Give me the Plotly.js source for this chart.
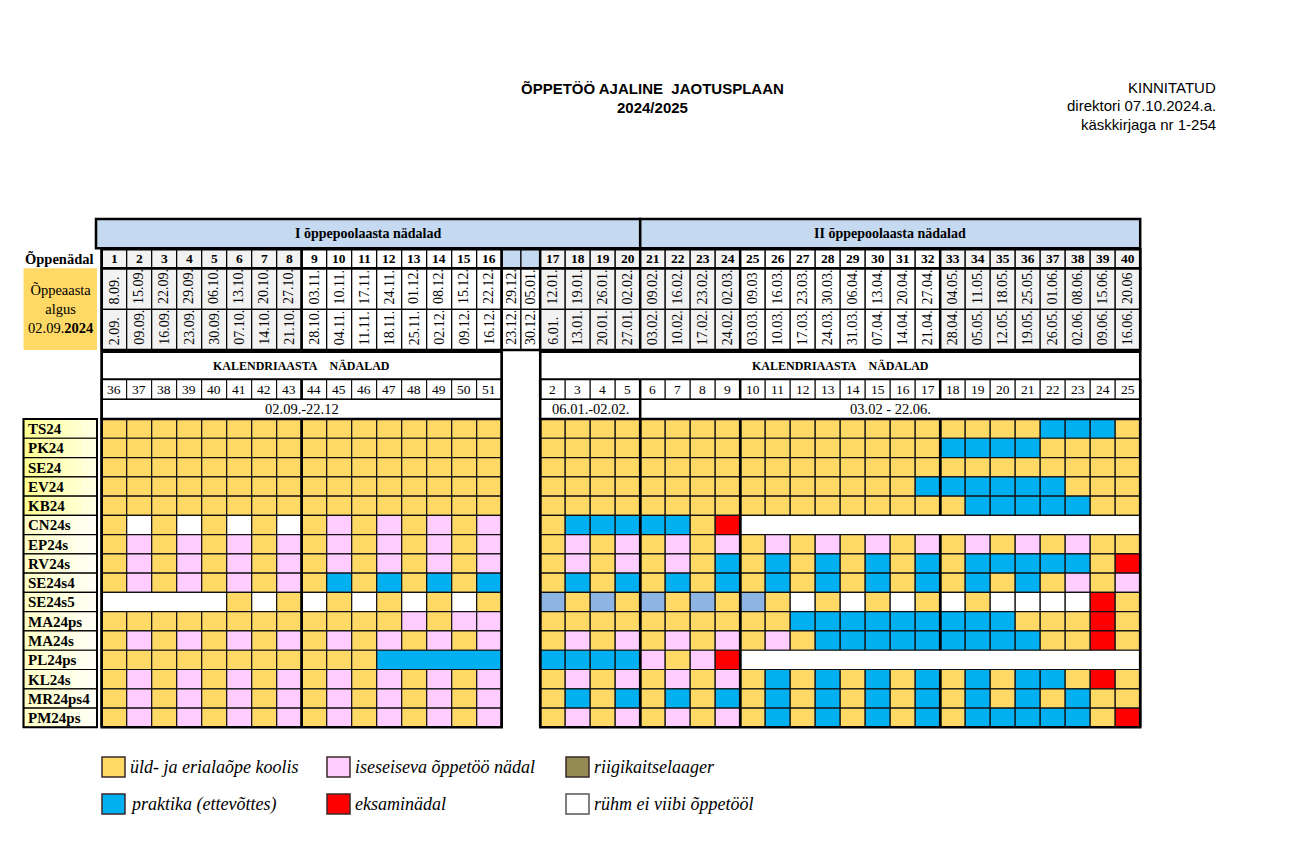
<!DOCTYPE html>
<html><head><meta charset="utf-8">
<script src="https://cdn.plot.ly/plotly-3.0.1.min.js"></script>
<style>html,body{margin:0;padding:0;background:#fff}#chart{width:1303px;height:851px}</style>
</head><body><div id="chart"></div>
<script>
// ---------------- DATA ----------------
const groups = ['TS24','PK24','SE24','EV24','KB24','CN24s','EP24s','RV24s','SE24s4','SE24s5','MA24ps','MA24s','PL24ps','KL24s','MR24ps4','PM24ps'];
// Codes: Y school, P independent study, B practice, R exam, W not in studies, L light-blue, O defence camp; '-' = merged with previous cell
const sem1 = [ // study weeks 1-16
 'YYYYYYYYYYYYYYYY','YYYYYYYYYYYYYYYY','YYYYYYYYYYYYYYYY','YYYYYYYYYYYYYYYY','YYYYYYYYYYYYYYYY',
 'YWYWYWYWYPYPYPYP','YPYPYPYPYPYPYPYP','YPYPYPYPYPYPYPYP','YPYPYPYPYBYBYBYB','W----YWYWYWYWYWY',
 'YYYYYYYYYYYYPYPP','YPYPYPYPYPYPYPYP','YYYYYYYYYYYB----','YPYPYPYPYPYPYPYP','YPYPYPYPYPYPYPYP',
 'YPYPYPYPYPYPYPYP'];
const sem2 = [ // study weeks 17-40
 'YYYYYYYYYYYYYYYYYYYYBBBY','YYYYYYYYYYYYYYYYBBBBYYYY','YYYYYYYYYYYYYYYYYYYYYYYY','YYYYYYYYYYYYYYYBBBBBBYYY',
 'YYYYYYYYYYYYYYYYYBBBBBYY','YBBBBBYRW---------------','YPYPYPYPYPYPYPYPYPYPYPYY','YPYPYPYBYBYBYBYBYBBBBBYR',
 'YBYBYBYBYBYBYBYBYBYBYPYP','LYLYLYLYLYWYWYWYWYWWWWRY','YYYYYYYYYYBBBBBBBBBYYYRY','YPYPYPYPYPYBBBBBBBBBYYRY',
 'BBBBPYPRW---------------','YPYPYPYPYBYBYBYBYBYBBYRY','YBYBYBYBYBYBYBYBYBYBYBYY','YPYPYPYPYBYBYBYBYBBBBBYR'];
const weekNo = ['1','2','3','4','5','6','7','8','9','10','11','12','13','14','15','16','','',
 '17','18','19','20','21','22','23','24','25','26','27','28','29','30','31','32','33','34','35','36','37','38','39','40'];
const endDate = ['8.09.','15.09.','22.09.','29.09.','06.10.','13.10.','20.10.','27.10.','03.11.','10.11.','17.11.','24.11.','01.12.','08.12.','15.12.','22.12.',
 '29.12.','05.01.','12.01.','19.01.','26.01.','02.02.','09.02.','16.02.','23.02.','02.03.','09.03','16.03.','23.03.','30.03.','06.04.','13.04.','20.04.','27.04.',
 '04.05.','11.05.','18.05.','25.05.','01.06.','08.06.','15.06.','20.06'];
const startDate = ['2.09.','09.09.','16.09.','23.09.','30.09.','07.10.','14.10.','21.10.','28.10.','04.11.','11.11.','18.11.','25.11.','02.12.','09.12.','16.12.',
 '23.12.','30.12.','6.01.','13.01.','20.01.','27.01.','03.02.','10.02.','17.02.','24.02.','03.03.','10.03.','17.03.','24.03.','31.03.','07.04.','14.04.','21.04.',
 '28.04.','05.05.','12.05.','19.05.','26.05.','02.06.','09.06.','16.06.'];
const calWeek = ['36','37','38','39','40','41','42','43','44','45','46','47','48','49','50','51','','',
 '2','3','4','5','6','7','8','9','10','11','12','13','14','15','16','17','18','19','20','21','22','23','24','25'];
const rangeLabels = ['02.09.-22.12','06.01.-02.02.','03.02 - 22.06.'];
const rangeWeeks = [[1,16],[17,20],[21,40]];
const semLabels = ['I õppepoolaasta nädalad','II õppepoolaasta nädalad'];
const legendCodes = ['Y','P','O','B','R','W'];
const legendLabels = ['üld- ja erialaõpe koolis','iseseiseva õppetöö nädal','riigikaitselaager','praktika (ettevõttes)','eksaminädal','rühm ei viibi õppetööl'];
const titleLines = ['ÕPPETÖÖ AJALINE\u00a0 JAOTUSPLAAN','2024/2025'];
const approvalLines = ['KINNITATUD','direktori 07.10.2024.a.','käskkirjaga nr 1-254'];
const startLabel = 'Õppeaasta<br>algus<br>02.09.<b>2024</b>';

// ---------------- STYLE / GEOMETRY ----------------
const COLORS = {Y:'#FFD966',P:'#FFCCFF',B:'#00B0F0',R:'#FF0000',W:'#FFFFFF',L:'#8DB4E2',O:'#948A54'};
const SERIF = "'Liberation Serif','Times New Roman',serif";
const SANS = "'Liberation Sans',Arial,sans-serif";
const W = 1303, H = 851;
const PX = 25, PY = 19.27, OX = 101.7, OY = 419;
const gx = p => (p - OX) / PX;   // layout placement helpers
const gy = p => (p - OY) / PY;
const HOLW = 0.77;
const ROW = {semT:219, semB:248.3, wkT:249.3, wkB:268.3, d1B:309.3, d2B:350, kalT:351.7, kalB:379.3, cwB:399.3, rgB:419};

// header column geometry
const cx = []; let acc = 0;
weekNo.forEach(w => { const wd = w === '' ? HOLW : 1; cx.push([acc, acc + wd]); acc += wd; });
const isHol = i => weekNo[i] === '';
const hIdx = n => n <= 16 ? n - 1 : n + 1;   // study week -> header column index
const gray = i => { const n = +weekNo[i]; return n <= 8 || (n >= 17 && n <= 24) || n >= 33; };
const THICK = [cx[hIdx(1)][0], cx[hIdx(9)][0], cx[hIdx(16)][1], cx[hIdx(17)][0], cx[hIdx(21)][0], cx[hIdx(25)][0], cx[hIdx(33)][0], cx[hIdx(40)][1]];
const isThick = x => THICK.some(t => Math.abs(t - x) < 1e-6);

const shapes = [], ann = [];
function rect(x0, x1, y0, y1, fill, lw, lc) {
  shapes.push({type:'rect', xref:'x', yref:'y', x0, x1, y0, y1, fillcolor: fill || 'rgba(0,0,0,0)',
    line:{width: lw == null ? 1 : lw, color: lc || '#000'}});
}
function seg(x0, y0, x1, y1, lw) {
  shapes.push({type:'line', xref:'x', yref:'y', x0, y0, x1, y1, line:{width:lw, color:'#000'}});
}
function thickEdges(x0, x1, y0, y1) {
  if (isThick(x0)) seg(x0, y0, x0, y1, 2.5);
  if (isThick(x1)) seg(x1, y0, x1, y1, 2.5);
}
function txt(x, y, t, opt, font) {
  ann.push(Object.assign({xref:'x', yref:'y', x, y, text:t, showarrow:false,
    font:Object.assign({family:SERIF, size:14, color:'#000'}, font || {})}, opt || {}));
}

// ---------------- TITLES ----------------
txt(gx(652), gy(88), '<b>' + titleLines[0] + '</b>', {}, {family:SANS, size:15});
txt(gx(652), gy(107), '<b>' + titleLines[1] + '</b>', {}, {family:SANS, size:15});
approvalLines.forEach((t, k) => txt(gx(1218), gy(87 + k * 18.5), t, {xanchor:'right'}, {family:SANS, size:15}));

// ---------------- HEADER ----------------
const c21 = cx[hIdx(21)][0], cEnd = cx[hIdx(40)][1], c17 = cx[hIdx(17)][0], c16 = cx[hIdx(16)][1];
[[gx(96), c21], [c21, cEnd]].forEach((b, k) => {
  rect(b[0], b[1], gy(ROW.semT), gy(ROW.semB), '#C5D9F1', 2.5);
  txt((b[0] + b[1]) / 2, gy((ROW.semT + ROW.semB) / 2), '<b>' + semLabels[k] + '</b>', {}, {size:14});
});
txt(gx(96), gy((ROW.wkT + ROW.wkB) / 2), '<b>Õppenädal</b>', {xanchor:'right'}, {size:14.5});
rect(gx(23.5), gx(97), gy(ROW.wkB), gy(ROW.d2B), '#FFD966', 0);
txt((gx(23.5) + gx(97)) / 2, gy(309), startLabel, {}, {size:14.5});

weekNo.forEach((w, i) => {
  const [x0, x1] = cx[i], xm = (x0 + x1) / 2;
  const shade = isHol(i) ? '#FFFFFF' : (gray(i) ? '#F2F2F2' : '#FFFFFF');
  // week number row
  rect(x0, x1, gy(ROW.wkT), gy(ROW.wkB), isHol(i) ? '#C5D9F1' : shade, 1.2);
  thickEdges(x0, x1, gy(ROW.wkT), gy(ROW.wkB));
  if (w) txt(xm, gy((ROW.wkT + ROW.wkB) / 2), '<b>' + w + '</b>', {}, {size:13.5});
  // date rows
  rect(x0, x1, gy(ROW.wkB), gy(ROW.d1B), shade, 1.2);
  rect(x0, x1, gy(ROW.d1B), gy(ROW.d2B), shade, 1.2);
  thickEdges(x0, x1, gy(ROW.wkB), gy(ROW.d2B));
  txt(xm, gy(ROW.d1B - 3), endDate[i], {textangle:-90, yanchor:'bottom'}, {size:14});
  txt(xm, gy(ROW.d2B - 3), startDate[i], {textangle:-90, yanchor:'bottom'}, {size:14});
  // calendar week row
  if (!isHol(i)) {
    rect(x0, x1, gy(ROW.kalB), gy(ROW.cwB), '#FFFFFF', 1);
    thickEdges(x0, x1, gy(ROW.kalB), gy(ROW.cwB));
    txt(xm, gy((ROW.kalB + ROW.cwB) / 2), calWeek[i], {}, {size:13.5});
  }
});
// outlines of header groups
[[cx[0][0], cEnd, ROW.wkT, ROW.wkB], [cx[0][0], cEnd, ROW.wkB, ROW.d2B]].forEach(r => rect(r[0], r[1], gy(r[2]), gy(r[3]), null, 2.5));
[[cx[0][0], c16], [c17, cEnd]].forEach(b => {
  rect(b[0], b[1], gy(ROW.kalT), gy(ROW.kalB), '#FFFFFF', 2);
  txt((b[0] + b[1]) / 2, gy((ROW.kalT + ROW.kalB) / 2), '<b>KALENDRIAASTA\u00a0\u00a0\u00a0 NÄDALAD</b>', {}, {size:12});
  rect(b[0], b[1], gy(ROW.kalT), gy(ROW.rgB), null, 2.5);
});
rangeLabels.forEach((t, k) => {
  const x0 = cx[hIdx(rangeWeeks[k][0])][0], x1 = cx[hIdx(rangeWeeks[k][1])][1];
  rect(x0, x1, gy(ROW.cwB), gy(ROW.rgB), '#FFFFFF', 1.5);
  thickEdges(x0, x1, gy(ROW.cwB), gy(ROW.rgB));
  txt((x0 + x1) / 2, gy((ROW.cwB + ROW.rgB) / 2), t, {}, {size:14.5});
});

// ---------------- DATA GRID ----------------
const hx = [], hy = [], htext = [];
const LBL0 = gx(23.5), LBL1 = gx(97);
groups.forEach((g, r) => {
  // label cell with soft gradient
  const c0 = r < 5 ? [255,255,150] : [255,255,200], c1 = r < 5 ? [255,255,225] : [255,255,245];
  const N = 10;
  for (let k = 0; k < N; k++) {
    const f = k / (N - 1), col = 'rgb(' + c0.map((v, j) => Math.round(v + (c1[j] - v) * f)).join(',') + ')';
    rect(LBL0 + (LBL1 - LBL0) * k / N, LBL0 + (LBL1 - LBL0) * (k + 1) / N + 0.01, r, r + 1, col, 0);
  }
  rect(LBL0, LBL1, r, r + 1, null, 1.2);
  txt(gx(26), r + 0.52, '<b>' + g + '</b>', {xanchor:'left'}, {size:15});
  // cells
  const codes = sem1[r] + sem2[r];
  const cells = [];
  for (let s = 0; s < codes.length; s++) {
    const ch = codes[s];
    if (ch === '-') cells[cells.length - 1].to = s + 1; else cells.push({from:s + 1, to:s + 1, code:ch});
  }
  cells.forEach(c => {
    const x0 = cx[hIdx(c.from)][0], x1 = cx[hIdx(c.to)][1];
    rect(x0, x1, r, r + 1, COLORS[c.code], 1.2, '#111');
    hx.push((x0 + x1) / 2); hy.push(r + 0.5); htext.push(g + ': ' + c.from + (c.to > c.from ? '–' + c.to : ''));
  });
  cells.forEach(c => thickEdges(cx[hIdx(c.from)][0], cx[hIdx(c.to)][1], r, r + 1));
});
const nR = groups.length;
rect(cx[0][0], c16, 0, nR, null, 2.5);
rect(c17, cEnd, 0, nR, null, 2.5);
rect(LBL0, LBL1, 0, nR, null, 2);

// ---------------- LEGEND ----------------
const legCols = [102, 327, 566], legRows = [757, 794];
legendCodes.forEach((c, k) => {
  const col = k % 3, row = Math.floor(k / 3);
  const x0 = gx(legCols[col]), y0 = gy(legRows[row]);
  rect(x0, x0 + 23 / PX, y0, y0 + 20 / PY, COLORS[c], 1.5, c === 'W' ? '#555' : '#3a2a2a');
  txt(x0 + 25.5 / PX, y0 + 10 / PY, legendLabels[k], {xanchor:'left'}, {size:18, style:'italic'});
});

// invisible trace carrying the cells (provides hover + the axes)
const trace = {type:'scatter', mode:'markers', x:hx, y:hy, text:htext, hoverinfo:'text', marker:{opacity:0, size:10}, showlegend:false};

const layout = {
  width:W, height:H, margin:{l:0, r:0, t:0, b:0}, paper_bgcolor:'#fff', plot_bgcolor:'#fff',
  xaxis:{range:[gx(0), gx(W)], visible:false, fixedrange:true},
  yaxis:{range:[gy(H), gy(0)], visible:false, fixedrange:true},
  shapes, annotations:ann, showlegend:false
};
Plotly.newPlot('chart', [trace], layout, {displayModeBar:false, staticPlot:true});
</script></body></html>
